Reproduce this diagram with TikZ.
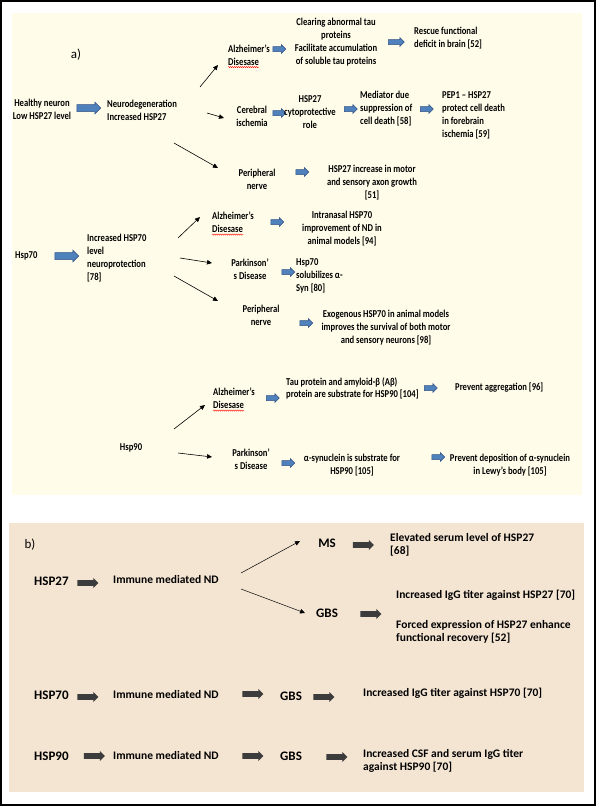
\documentclass[tikz,border=0pt]{standalone}
\usepackage{fontspec}
\setmainfont{Carlito}
\newfontfamily\fa[FakeStretch=0.82,Ligatures=TeX]{Carlito}
\usetikzlibrary{shapes.arrows,arrows.meta,decorations.pathmorphing,calc}
\definecolor{panelA}{RGB}{255,253,234}
\definecolor{panelB}{RGB}{244,229,211}
\definecolor{bluefill}{RGB}{79,129,189}
\definecolor{blueedge}{RGB}{50,80,130}
\definecolor{darkarr}{RGB}{60,60,60}
\tikzset{
  ta/.style={inner sep=0pt, font=\fa\bfseries\fontsize{10.5}{13}\selectfont, align=center},
  tal/.style={ta, align=left, anchor=west},
  tb/.style={inner sep=0pt, font=\bfseries\fontsize{11.5}{13}\selectfont, align=left, anchor=west},
  tbb/.style={inner sep=0pt, font=\bfseries\fontsize{13}{15}\selectfont, anchor=west},
  lab/.style={inner sep=0pt, font=\fontsize{13}{15}\selectfont},
  barrow/.style={single arrow, draw=blueedge, fill=bluefill, line width=0.5pt, inner sep=0pt,
     text height=4.5pt, text depth=0pt, text width=0pt,
     single arrow head extend=2pt, minimum height=13pt},
  bigbarrow/.style={barrow, text height=6.5pt, single arrow head extend=2.5pt, minimum height=24pt},
  darrow/.style={single arrow, draw=none, fill=darkarr, inner sep=0pt,
     text height=5.5pt, text depth=0pt, text width=0pt,
     single arrow head extend=2.2pt, minimum height=21pt},
  conn/.style={-{Triangle[length=5pt,width=4.5pt]}, line width=0.6pt},
  spell/.style={red, line width=0.4pt, decorate, decoration={snake, amplitude=0.6pt, segment length=2pt}}
}
\begin{document}
\begin{tikzpicture}[x=1pt,y=-1pt]
\useasboundingbox (0,0) rectangle (596,806);
\fill[white] (0,0) rectangle (596,806);
\draw[line width=1.5pt] (1,1) rectangle (595,805);
\fill[panelA] (12,13) rectangle (582,495);
\fill[panelB] (9,523) rectangle (584,792);

% ---------- panel a ----------
\node[lab] (la) at (76,55) {a)};
\node[ta] (h27) at (42,109) {Healthy neuron\\Low HSP27 level};
\node[bigbarrow] (ba1) at (87,108) {};
\node[tal] (nd) at (107,110) {Neurodegeneration\\Increased HSP27};
\coordinate (c1as) at (200,87); \coordinate (c1ae) at (218,65);
\coordinate (c1bs) at (207,113); \coordinate (c1be) at (224,118);
\coordinate (c1cs) at (174,143); \coordinate (c1ce) at (218,168);
\draw[conn] (c1as) -- (c1ae);
\draw[conn] (c1bs) -- (c1be);
\draw[conn] (c1cs) -- (c1ce);

\node[tal] (ad1) at (228,55) {Alzheimer's\\Disesase};
\draw[spell] ($(ad1.south west)+(0,1.5)$) -- ++(31,0);
\node[barrow] (ba2) at (278,49) {};
\node[ta] (clr) at (336,42.5) {Clearing abnormal tau\\proteins\\Facilitate accumulation\\of soluble tau proteins};
\node[barrow, minimum height=16pt] (ba3) at (395,42) {};
\node[tal] (res) at (414,38.5) {Rescue functional\\deficit in brain [52]};

\node[ta] (ci) at (252,116.5) {Cerebral\\ischemia};
\node[barrow] (ba4) at (278,113) {};
\node[ta] (cyt) at (310,112) {HSP27\\cytoprotective\\role};
\node[barrow] (ba5) at (349.5,109) {};
\node[tal] (med) at (360,109) {Mediator due\\suppression of\\cell death [58]};
\node[barrow] (ba6) at (425.5,109) {};
\node[tal] (pep) at (442,115.5) {PEP1 – HSP27\\protect cell death\\in forebrain\\ischemia [59]};

\node[ta] (pn1) at (257,179.5) {Peripheral\\nerve};
\node[barrow] (ba7) at (301,172) {};
\node[ta] (hmot) at (372,183) {HSP27 increase in motor\\and sensory axon growth\\{[51]}};

% Hsp70
\node[tal] (h70) at (15,256) {Hsp70};
\node[bigbarrow] (ba8) at (65,256) {};
\node[tal] (inc70) at (87,258.5) {Increased HSP70\\level\\neuroprotection\\{[78]}};
\coordinate (c2as) at (178,238); \coordinate (c2ae) at (200,217);
\coordinate (c2bs) at (180,258); \coordinate (c2be) at (212,263);
\coordinate (c2cs) at (174,276); \coordinate (c2ce) at (218,301);
\draw[conn] (c2as) -- (c2ae);
\draw[conn] (c2bs) -- (c2be);
\draw[conn] (c2cs) -- (c2ce);

\node[tal] (ad2) at (212,222.5) {Alzheimer's\\Disesase};
\draw[spell] ($(ad2.south west)+(0,1.5)$) -- ++(31,0);
\node[barrow] (ba9) at (276,222) {};
\node[ta] (intr) at (342,229) {Intranasal HSP70\\improvement of ND in\\animal models [94]};
\node[ta] (pd2) at (250,269.5) {Parkinson'\\s Disease};
\node[barrow] (ba10) at (287,272) {};
\node[tal] (sol) at (296,276) {Hsp70\\solubilizes α-\\Syn [80]};
\node[ta] (pn2) at (261,315) {Peripheral\\nerve};
\node[barrow] (ba11) at (305,323) {};
\node[ta] (exo) at (386,327.5) {Exogenous HSP70 in animal models\\improves the survival of both motor\\and sensory neurons [98]};

% Hsp90
\node[ta] (h90) at (131,448) {Hsp90};
\coordinate (c3as) at (174,429); \coordinate (c3ae) at (205,405);
\coordinate (c3bs) at (178,453); \coordinate (c3be) at (212,457);
\draw[conn] (c3as) -- (c3ae);
\draw[conn] (c3bs) -- (c3be);
\node[tal] (ad3) at (213,398.5) {Alzheimer's\\Disesase};
\draw[spell] ($(ad3.south west)+(0,1.5)$) -- ++(31,0);
\node[barrow] (ba12) at (271.5,398) {};
\node[tal, font=\fa\bfseries\fontsize{10.5}{11.5}\selectfont] (tau) at (286,388.5) {Tau protein and amyloid-β (Aβ)\\protein are substrate for HSP90 [104]};
\node[barrow] (ba13) at (429.5,388) {};
\node[tal] (prev) at (455,388) {Prevent aggregation [96]};
\node[ta] (pd3) at (251,459.5) {Parkinson'\\s Disease};
\node[barrow] (ba14) at (287,463) {};
\node[ta] (asyn) at (352,465.5) {α-synuclein is substrate for\\HSP90 [105]};
\node[barrow] (ba15) at (437,457) {};
\node[ta] (dep) at (510,465.5) {Prevent deposition of α-synuclein\\in Lewy's body [105]};

% ---------- panel b ----------
\node[lab] (lb) at (30,545) {b)};
\node[tbb] (hb27) at (34,581) {HSP27};
\node[darrow] (da1) at (86.5,583) {};
\node[tb] (imm1) at (113,579) {Immune mediated ND};
\coordinate (c4as) at (241,573); \coordinate (c4ae) at (300,541);
\coordinate (c4bs) at (241,589); \coordinate (c4be) at (305,613);
\draw[conn, line width=0.5pt] (c4as) -- (c4ae);
\draw[conn, line width=0.5pt] (c4bs) -- (c4be);
\node[tbb, anchor=center] (ms) at (327,543) {MS};
\node[darrow] (da2) at (362,545) {};
\node[tb] (elev) at (390,544.5) {Elevated serum level of HSP27\\{[68]}};
\node[tbb] (gbs1) at (316,613) {GBS};
\node[darrow] (da3) at (369.5,614) {};
\node[tb] (igg27) at (396,595) {Increased IgG titer against HSP27 [70]};
\node[tb] (forced) at (396,632) {Forced expression of HSP27 enhance\\functional recovery [52]};

\node[tbb] (hb70) at (34,695) {HSP70};
\node[darrow] (da4) at (86.5,697) {};
\node[tb] (imm2) at (113,694) {Immune mediated ND};
\node[darrow] (da5) at (251.5,694) {};
\node[tbb] (gbs2) at (280,696) {GBS};
\node[darrow] (da6) at (322.5,697) {};
\node[tb] (igg70) at (363,693) {Increased IgG titer against HSP70 [70]};

\node[tbb] (hb90) at (34,756) {HSP90};
\node[darrow] (da7) at (93,756) {};
\node[tb] (imm3) at (113,755) {Immune mediated ND};
\node[darrow] (da8) at (251.5,756) {};
\node[tbb] (gbs3) at (280,756) {GBS};
\node[darrow] (da9) at (335.5,757) {};
\node[tb] (csf) at (363,760.5) {Increased CSF and serum IgG titer\\against HSP90 [70]};
\end{tikzpicture}
\end{document}
